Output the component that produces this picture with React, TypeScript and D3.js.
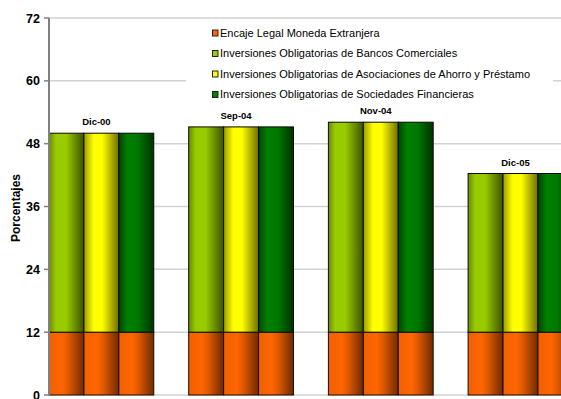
import React from "react";
import * as d3 from "d3";

const categories = ["Dic-00", "Sep-04", "Nov-04", "Dic-05"];
const seriesNames = [
  "Encaje Legal Moneda Extranjera",
  "Inversiones Obligatorias de Bancos Comerciales",
  "Inversiones Obligatorias de Asociaciones de Ahorro y Préstamo",
  "Inversiones Obligatorias de Sociedades Financieras",
];
const encaje = [12, 12, 12, 12];
const bancos = [38, 39.2, 40.1, 30.3];
const asociaciones = [38, 39.2, 40.1, 30.3];
const financieras = [38, 39.2, 40.1, 30.3];
const yTicks = [0, 12, 24, 36, 48, 60, 72];

const W = 561;
const H = 399;
const font = "'Liberation Sans', Arial, sans-serif";

const palette = [
  { id: "gOr", base: "#ff6600", stops: [["0", "#f06000"], ["0.38", "#ff6600"], ["0.55", "#e25a00"], ["1", "#6e2a00"]] },
  { id: "gGy", base: "#99cc00", stops: [["0", "#6a8a00"], ["0.2", "#99cc00"], ["0.48", "#99cc00"], ["1", "#3d5200"]] },
  { id: "gYe", base: "#ffff00", stops: [["0", "#9c9c00"], ["0.28", "#ffff00"], ["0.52", "#ffff00"], ["1", "#6e6e00"]] },
  { id: "gDg", base: "#008000", stops: [["0", "#004400"], ["0.25", "#008000"], ["0.55", "#007800"], ["1", "#003000"]] },
];

export default function App() {
  const y = d3.scaleLinear().domain([0, 72]).range([395, 18]);
  const x = d3
    .scaleBand<string>()
    .domain(categories)
    .range([49, 49 + 4 * 139.7])
    .paddingInner(0.25)
    .paddingOuter(0.125)
    .align(0);
  const tops = [bancos, asociaciones, financieras];
  const xs = d3
    .scaleBand<number>()
    .domain([0, 1, 2])
    .range([0, x.bandwidth()])
    .padding(0);

  return (
    <svg
      width={W}
      height={H}
      style={{ position: "absolute", left: 0, top: 0, background: "#fff" }}
      fontFamily={font}
    >
      <defs>
        {palette.map((p) => (
          <linearGradient key={p.id} id={p.id} x1="0" x2="1" y1="0" y2="0">
            {p.stops.map(([o, c]) => (
              <stop key={o} offset={o} stopColor={c} />
            ))}
          </linearGradient>
        ))}
      </defs>

      {/* gridlines */}
      {yTicks.map((t) => (
        <line key={t} x1={49} x2={W} y1={y(t)} y2={y(t)} stroke="#d2d2d2" strokeWidth={1.5} />
      ))}

      {/* bars */}
      {categories.map((c, i) => {
        const gx = x(c)!;
        const total = encaje[i] + tops[0][i];
        return (
          <g key={c}>
            {tops.map((s, j) => {
              const bx = gx + xs(j)!;
              const bw = xs.bandwidth();
              return (
                <g key={j}>
                  <rect
                    x={bx}
                    y={y(encaje[i])}
                    width={bw}
                    height={y(0) - y(encaje[i])}
                    fill={`url(#${palette[0].id})`}
                    stroke="#1a0a00"
                    strokeWidth={1}
                  />
                  <rect
                    x={bx}
                    y={y(encaje[i] + s[i])}
                    width={bw}
                    height={y(encaje[i]) - y(encaje[i] + s[i])}
                    fill={`url(#${palette[j + 1].id})`}
                    stroke="#0a0a00"
                    strokeWidth={1}
                  />
                </g>
              );
            })}
            <text
              x={gx + x.bandwidth() / 2 - 5}
              y={y(total) - 8}
              textAnchor="middle"
              fontSize={9.5}
              fontWeight="bold"
              fill="#000"
            >
              {c}
            </text>
          </g>
        );
      })}

      {/* y axis */}
      <line x1={49} x2={49} y1={y(72)} y2={y(0)} stroke="#808080" strokeWidth={2} />
      {yTicks.map((t) => (
        <g key={t}>
          <line x1={44} x2={49} y1={y(t)} y2={y(t)} stroke="#808080" strokeWidth={1.5} />
          <text
            x={40}
            y={y(t)}
            dy="0.36em"
            textAnchor="end"
            fontSize={12.5}
            fontWeight="bold"
            fill="#000"
          >
            {t}
          </text>
        </g>
      ))}
      <text
        transform={`translate(20,${208}) rotate(-90)`}
        textAnchor="middle"
        fontSize={12}
        fontWeight="bold"
        fill="#000"
      >
        Porcentajes
      </text>

      {/* legend */}
      <g>
        <rect x={186} y={21} width={367} height={83} fill="#fff" />
        {seriesNames.map((n, k) => (
          <g key={n} transform={`translate(212,${33 + k * 20.5})`}>
            <rect x={0.5} y={-3} width={5.5} height={6} fill={palette[k].base} stroke="#222" strokeWidth={1} />
            <text x={8} y={0} dy="0.36em" fontSize={11} fill="#000">
              {n}
            </text>
          </g>
        ))}
      </g>
    </svg>
  );
}
